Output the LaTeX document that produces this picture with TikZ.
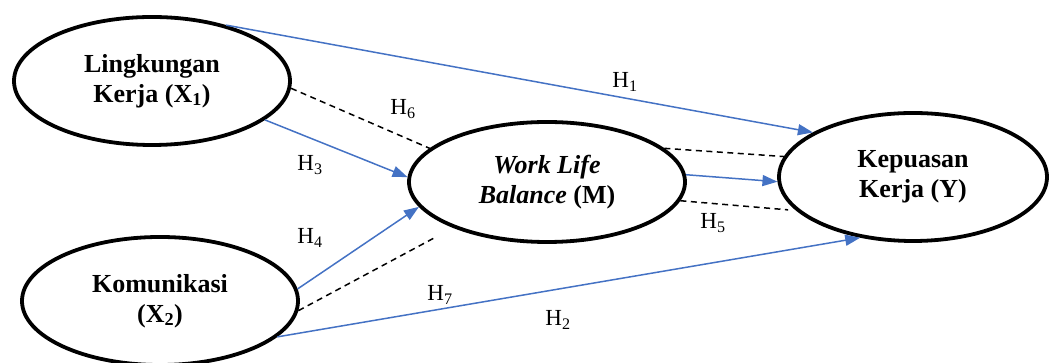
\documentclass[tikz,border=0pt]{standalone}
\usepackage{fontspec}
\setmainfont{Liberation Serif}
\usepackage{xcolor}
\usepackage{tikz}
\usetikzlibrary{shapes.geometric,arrows.meta}
\definecolor{pathblue}{RGB}{68,114,196}

\begin{document}
\begin{tikzpicture}[
  x=1pt, y=1pt,
  var/.style={ellipse, draw=black, line width=3.8pt, inner sep=0pt,
              minimum width=276pt, minimum height=128pt, align=center,
              font=\fontsize{26}{30}\selectfont\bfseries},
  hyp/.style={font=\fontsize{23}{27}\selectfont},
  ar/.style={-{Triangle[length=15pt, width=11pt]}, line width=1.5pt, draw=pathblue},
  ind/.style={dashed, dash pattern=on 6pt off 4.5pt, line width=1.5pt, draw=black}
]
\useasboundingbox (0,0) rectangle (1051,363);

\node[var] (lk) at (152,282) {Lingkungan\\Kerja (X\textsubscript{1})};
\node[var] (kom) at (160,62) {Komunikasi\\(X\textsubscript{2})};
\node[var, minimum height=120pt] (wlb) at (547,181)
      {\textit{Work Life}\\\textit{Balance} (M)};
\node[var, minimum width=268pt] (kk) at (913,186) {Kepuasan\\Kerja (Y)};

\node[hyp] (h1) at (625,281) {H\textsubscript{1}};
\node[hyp] (h2) at (558,43)  {H\textsubscript{2}};
\node[hyp] (h3) at (310,198) {H\textsubscript{3}};
\node[hyp] (h4) at (310,125) {H\textsubscript{4}};
\node[hyp] (h5) at (713,140) {H\textsubscript{5}};
\node[hyp] (h6) at (403,254) {H\textsubscript{6}};
\node[hyp] (h7) at (440,68)  {H\textsubscript{7}};

\draw[ar] (lk.37) -- (kk.156);
\draw[ar] (lk.-19) -- (wlb.178);
\draw[ar] (kom.5) -- (wlb.191);
\draw[ar] (kom.-17) -- (kk.229);
\draw[ar] (wlb.3) -- (kk.182);

\draw[ind] (lk.-3) -- (wlb.164);
\draw[ind, shorten >=19pt] (kom.-4) -- (wlb.206);
\draw[ind] (wlb.16) -- (kk.171);
\draw[ind, shorten >=8pt] (wlb.-8) -- (kk.196);
\end{tikzpicture}
\end{document}
